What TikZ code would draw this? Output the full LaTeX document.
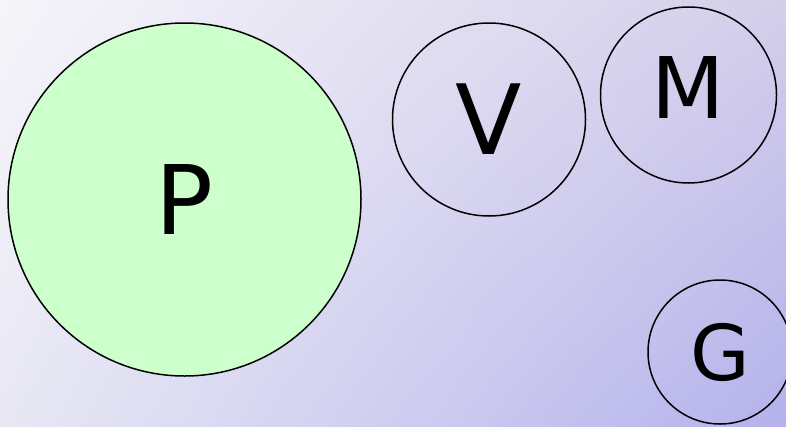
\documentclass[tikz,border=0pt]{standalone}
\usepackage{fontspec}
\setmainfont{DejaVu Sans}
\usepackage{tikz}
\usetikzlibrary{positioning,shadings}
\definecolor{paleleaf}{RGB}{204,255,204}
\definecolor{skytl}{RGB}{246,245,250}
\definecolor{skytr}{RGB}{212,206,234}
\definecolor{skybl}{RGB}{232,232,244}
\definecolor{skybr}{RGB}{180,178,236}
\tikzset{
  ball/.style={
    draw=black,
    circle,
    line width=1.5pt,
    inner sep=0pt,
    align=center
  },
  bigletter/.style={font=\fontsize{#1}{#1}\selectfont}
}

\begin{document}
\begin{tikzpicture}[x=1pt,y=-1pt]
        \path[use as bounding box, clip] (0,0) rectangle (786,426);
        % backdrop
        \shade[upper left=skytl, upper right=skytr, lower left=skybl, lower right=skybr]
          (0,0) rectangle (786,426);
        \node[ball, fill=paleleaf, minimum size=353pt, bigletter=96] (p) at (184.5,199.5) {P};
        \node[ball, minimum size=193pt, bigletter=97] (v) at (489,119.5) {V};
        \node[ball, minimum size=176pt, bigletter=85, text depth=14pt] (m) at (688.5,95) {M};
        \node[ball, minimum size=144pt, bigletter=77] (g) at (720,352) {G};
      \end{tikzpicture}
\end{document}
